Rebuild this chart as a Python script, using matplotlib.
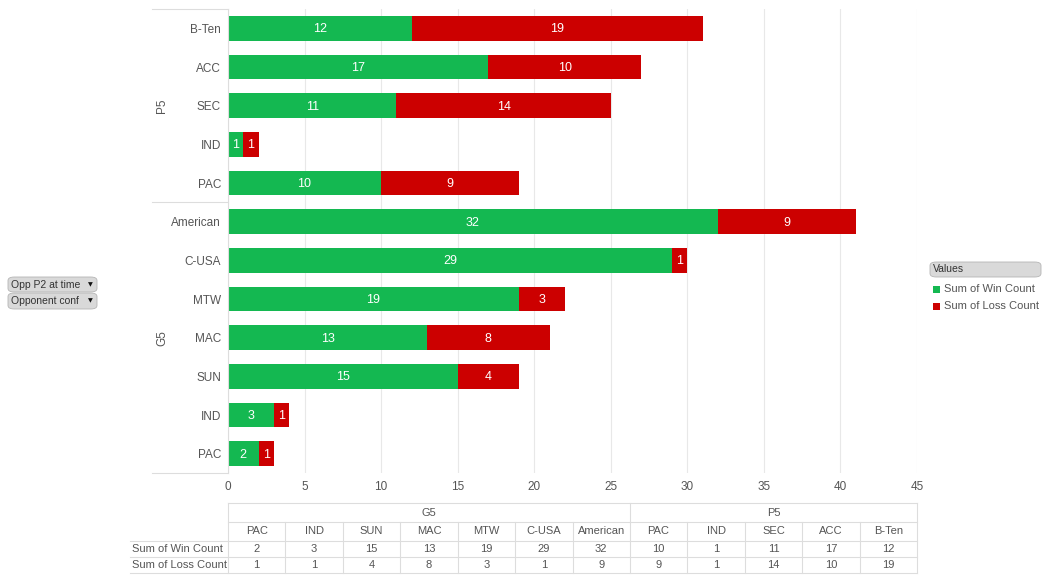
import matplotlib.pyplot as plt
from matplotlib.lines import Line2D
from matplotlib.patches import FancyBboxPatch, Rectangle

# data, top to bottom as drawn
groups = ['P5', 'G5']
group_confs = {
    'P5': ['B-Ten', 'ACC', 'SEC', 'IND', 'PAC'],
    'G5': ['American', 'C-USA', 'MTW', 'MAC', 'SUN', 'IND', 'PAC'],
}
win_count = {
    'P5': [12, 17, 11, 1, 10],
    'G5': [32, 29, 19, 13, 15, 3, 2],
}
loss_count = {
    'P5': [19, 10, 14, 1, 9],
    'G5': [9, 1, 3, 8, 4, 1, 1],
}
x_ticks = [0, 5, 10, 15, 20, 25, 30, 35, 40, 45]

GREEN = '#14b851'
RED = '#cc0000'
TXT = '#555555'
LINE = '#dddddd'
W, H = 1047, 585

plt.rcParams['font.family'] = ['Liberation Sans', 'DejaVu Sans']

fig = plt.figure(figsize=(W / 100, H / 100), dpi=100)


def fx(x):
    return x / W


def fy(y):
    return 1 - y / H


ax = fig.add_axes([fx(228), fy(473), fx(917) - fx(228), fy(9) - fy(473)])

labels = []
wins = []
losses = []
for g in groups:
    labels += group_confs[g]
    wins += win_count[g]
    losses += loss_count[g]
ypos = list(range(len(labels)))

ax.barh(ypos, wins, height=0.64, color=GREEN)
ax.barh(ypos, losses, left=wins, height=0.64, color=RED)
for y, w, l in zip(ypos, wins, losses):
    ax.text(w / 2, y + 0.03, str(w), color='white', ha='center', va='center', fontsize=9)
    ax.text(w + l / 2, y + 0.03, str(l), color='white', ha='center', va='center', fontsize=9)

ax.set_xlim(0, 45)
ax.set_ylim(len(labels) - 0.5, -0.5)
ax.set_xticks(x_ticks)
ax.set_yticks(ypos)
ax.set_yticklabels(labels)
ax.tick_params(axis='both', length=0, colors=TXT, labelsize=8.5)
ax.tick_params(axis='x', pad=6)
ax.tick_params(axis='y', pad=5)
ax.grid(axis='x', color='#e8e8e8', linewidth=0.8)
ax.set_axisbelow(True)
for s in ['top', 'right', 'bottom']:
    ax.spines[s].set_visible(False)
ax.spines['left'].set_color(LINE)


def hline(x0, x1, y, color=LINE):
    fig.add_artist(Line2D([fx(x0), fx(x1)], [fy(y), fy(y)], color=color, lw=0.8))


def vline(x, y0, y1, color=LINE):
    fig.add_artist(Line2D([fx(x), fx(x)], [fy(y0), fy(y1)], color=color, lw=0.8))


# group brackets on the category axis
row_px = (473 - 9) / len(labels)
hline(152, 228, 9)
n0 = 0
for g in groups:
    n = len(group_confs[g])
    y_mid = 9 + row_px * (n0 + n / 2)
    fig.text(fx(162), fy(y_mid), g, rotation=90, ha='center', va='center',
             color=TXT, fontsize=8.5)
    n0 += n
    hline(152, 228, 9 + row_px * n0)

# data table under the axis
col_w = (917 - 228) / len(labels)
t_cols = []
for g in reversed(groups):
    for c, w, l in zip(reversed(group_confs[g]), reversed(win_count[g]), reversed(loss_count[g])):
        t_cols.append((g, c, w, l))
rows_y = [503, 522, 541, 557, 573]
hline(228, 917, rows_y[0])
hline(228, 917, rows_y[1])
hline(130, 917, rows_y[2])
hline(130, 917, rows_y[3])
hline(130, 917, rows_y[4])
vline(917, rows_y[0], rows_y[4])
vline(228, rows_y[0], rows_y[4])
for i in range(1, len(t_cols)):
    top = rows_y[1] if t_cols[i][0] == t_cols[i - 1][0] else rows_y[0]
    vline(228 + col_w * i, top, rows_y[4])
start = 0
for g in reversed(groups):
    n = len(group_confs[g])
    fig.text(fx(228 + col_w * (start + n / 2)), fy((rows_y[0] + rows_y[1]) / 2), g,
             ha='center', va='center', color=TXT, fontsize=8)
    start += n
for i, (g, c, w, l) in enumerate(t_cols):
    xc = fx(228 + col_w * (i + 0.5))
    fig.text(xc, fy((rows_y[1] + rows_y[2]) / 2), c, ha='center', va='center', color=TXT, fontsize=8)
    fig.text(xc, fy((rows_y[2] + rows_y[3]) / 2), str(w), ha='center', va='center', color=TXT, fontsize=8)
    fig.text(xc, fy((rows_y[3] + rows_y[4]) / 2), str(l), ha='center', va='center', color=TXT, fontsize=8)
fig.text(fx(132), fy((rows_y[2] + rows_y[3]) / 2), 'Sum of Win Count', ha='left', va='center',
         color=TXT, fontsize=8)
fig.text(fx(132), fy((rows_y[3] + rows_y[4]) / 2), 'Sum of Loss Count', ha='left', va='center',
         color=TXT, fontsize=8)


def button(x0, y0, x1, y1, text, arrow=False):
    fig.add_artist(FancyBboxPatch((fx(x0), fy(y1)), fx(x1) - fx(x0), fy(y0) - fy(y1),
                                  boxstyle='round,pad=0,rounding_size=0.006',
                                  facecolor='#d9d9d9', edgecolor='#b5b5b5', lw=0.6))
    fig.text(fx(x0 + 3), fy((y0 + y1) / 2), text, ha='left', va='center', color='#333333', fontsize=7.5)
    if arrow:
        fig.text(fx(x1 - 7), fy((y0 + y1) / 2), '\u25bc', ha='center', va='center',
                 color='#111111', fontsize=4.5, family='DejaVu Sans')


button(8, 277, 97, 292, 'Opp P2 at time', arrow=True)
button(8, 293, 97, 309, 'Opponent conf', arrow=True)
button(930, 262, 1041, 277, 'Values')

for i, (name, col) in enumerate([('Sum of Win Count', GREEN), ('Sum of Loss Count', RED)]):
    yc = 289 + 17 * i
    fig.add_artist(Rectangle((fx(933), fy(yc + 3.5)), fx(7), fy(0) - fy(7), facecolor=col, edgecolor='none'))
    fig.text(fx(944), fy(yc), name, ha='left', va='center', color=TXT, fontsize=8)

fig.savefig('out.png', dpi=100)
